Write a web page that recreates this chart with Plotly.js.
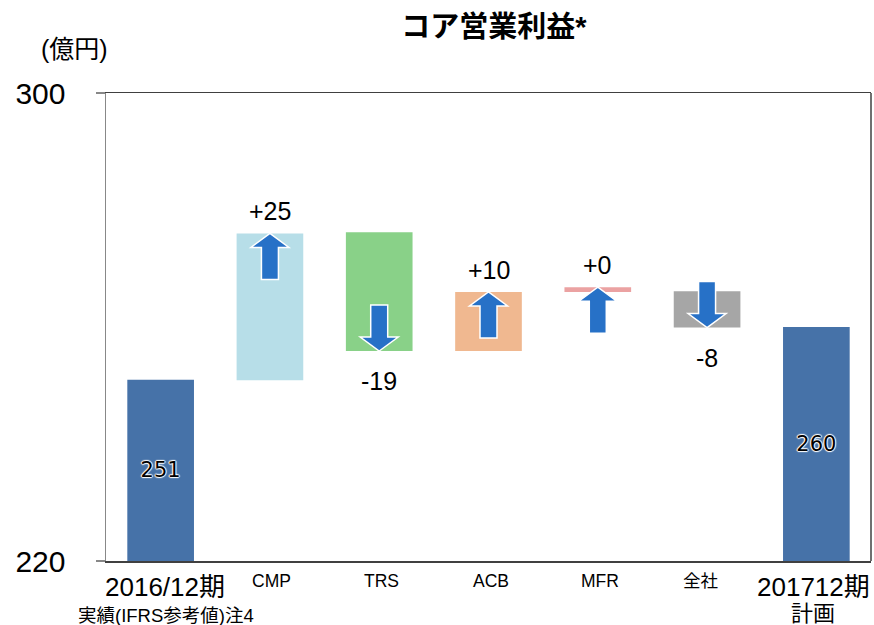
<!DOCTYPE html>
<html>
<head>
<meta charset="utf-8">
<script src="https://cdn.plot.ly/plotly-3.0.1.min.js"></script>
<style>html,body{margin:0;padding:0;background:#fff;}#chart{width:874px;height:625px;}</style>
</head>
<body>
<div id="chart"></div>
<script>
// ---- data ----
const categories = ['2016/12期', 'CMP', 'TRS', 'ACB', 'MFR', '全社', '201712期'];
const subLabels  = ['実績(IFRS参考値)注4', '', '', '', '', '', '計画'];
const barLow     = [220, 250.9, 255.9, 255.9, 266.0, 259.9, 220];
const barHigh    = [251, 276.0, 276.2, 266.0, 266.8, 266.1, 260];
const totalText  = ['251', '', '', '', '', '', '260'];
const changeText = ['', '+25', '-19', '+10', '+0', '-8', ''];
const yTicks     = [220, 300];

// ---- styles ----
const FONT = 'Liberation Sans, Arial, Noto Sans CJK JP, sans-serif';
const barColors = ['#4672A8', '#B7DEE8', '#89D188', '#F0B890', '#EBA2A2', '#A6A6A6', '#4672A8'];
const arrowColor = '#2771C7';
const mainShift = [4, 2, 2, 2, 2, -7, -3];
const subShift  = [5, 0, 0, 0, 0, 0, -3];

const plotTop = 93, plotBottom = 561;
const pxToPaperY = y => (plotBottom - y) / (plotBottom - plotTop);

const trace = {
  type: 'bar',
  x: categories,
  y: barHigh.map((h, i) => h - barLow[i]),
  base: barLow,
  width: 0.61,
  marker: {color: barColors, line: {width: 0}},
  text: totalText,
  textposition: 'inside',
  insidetextanchor: 'middle',
  textangle: 0,
  insidetextfont: {family: 'DejaVu Sans, sans-serif', size: 21, color: '#000000',
    shadow: '1px 0 1px #fff, -1px 0 1px #fff, 0 1px 1px #fff, 0 -1px 1px #fff, 0 0 2px #fff'},
  hoverinfo: 'skip',
  cliponaxis: true
};

// arrows (tip at the end value of each change bar)
function arrowPath(up) {
  const s = up ? 1 : -1;
  const L = 46, H = 14, hw = 19, sw = 8.5;
  const pts = [[0,0],[hw,-H],[sw,-H],[sw,-L],[-sw,-L],[-sw,-H],[-hw,-H]];
  return 'M' + pts.map(p => p[0] + ',' + (s * p[1])).join(' L') + ' Z';
}
const shapes = [];
const annotations = [];
categories.forEach((c, i) => {
  const lab = changeText[i];
  if (!lab) return;
  const up = lab.charAt(0) === '+';
  const tipY = up ? barHigh[i] : barLow[i];
  shapes.push({
    type: 'path', xref: 'x', yref: 'y',
    xsizemode: 'pixel', ysizemode: 'pixel',
    xanchor: i, yanchor: tipY,
    path: arrowPath(up),
    fillcolor: arrowColor,
    line: {color: '#ffffff', width: 1.5},
    layer: 'above'
  });
  annotations.push({
    x: c, y: tipY, xref: 'x', yref: 'y',
    text: lab, showarrow: false,
    yanchor: up ? 'bottom' : 'top',
    yshift: up ? 6 : -14,
    font: {family: FONT, size: 25, color: '#000'}
  });
});

// category labels
categories.forEach((c, i) => {
  const big = subLabels[i] !== '';
  annotations.push({
    x: c, xref: 'x', yref: 'paper', y: pxToPaperY(big ? 587 : 581),
    yanchor: 'middle', showarrow: false, text: c,
    xshift: mainShift[i],
    font: {family: FONT, size: big ? 26 : 17.5, color: '#000'}
  });
  if (subLabels[i]) {
    annotations.push({
      x: c, xref: 'x', yref: 'paper', y: pxToPaperY(i === 0 ? 615 : 613),
      yanchor: 'middle', showarrow: false, text: subLabels[i],
      xshift: subShift[i],
      font: {family: FONT, size: i === 0 ? 18.5 : 22, color: '#000'}
    });
  }
});

// unit label
annotations.push({
  xref: 'paper', yref: 'paper', x: (74 - 106) / 765, y: pxToPaperY(49),
  xanchor: 'center', yanchor: 'middle', showarrow: false, text: '(億円)',
  font: {family: FONT, size: 25, color: '#000'}
});

const layout = {
  width: 874, height: 625,
  margin: {l: 106, r: 3, t: 93, b: 64, pad: 0},
  paper_bgcolor: '#fff', plot_bgcolor: '#fff',
  showlegend: false,
  title: {text: '<b>コア営業利益*</b>', x: 494 / 874, xanchor: 'center', y: 1 - 27 / 625, yanchor: 'middle',
    font: {family: 'Liberation Sans, Noto Sans CJK JP, sans-serif', size: 29, color: '#000'}},
  xaxis: {type: 'category', range: [-0.5, 6.5], showticklabels: false, ticks: '',
    showline: true, linecolor: '#404040', linewidth: 1.5, mirror: true, showgrid: false, zeroline: false,
    fixedrange: true},
  yaxis: {range: [220, 300], tickvals: yTicks, ticktext: yTicks.map(String), ticks: 'outside', ticklen: 9,
    tickcolor: '#888', tickwidth: 1.5, showline: true, linecolor: '#888', linewidth: 1.5, mirror: false,
    showgrid: false, zeroline: false, ticklabelstandoff: 24,
    tickfont: {family: FONT, size: 30, color: '#000'}, fixedrange: true},
  shapes: shapes.concat([
    {type: 'line', xref: 'paper', yref: 'paper', x0: 1, x1: 1, y0: 0, y1: 1, line: {color: '#404040', width: 1.5}}
  ]),
  annotations: annotations,
  bargap: 0.39
};

Plotly.newPlot('chart', [trace], layout, {displayModeBar: false, staticPlot: true});
</script>
</body>
</html>
